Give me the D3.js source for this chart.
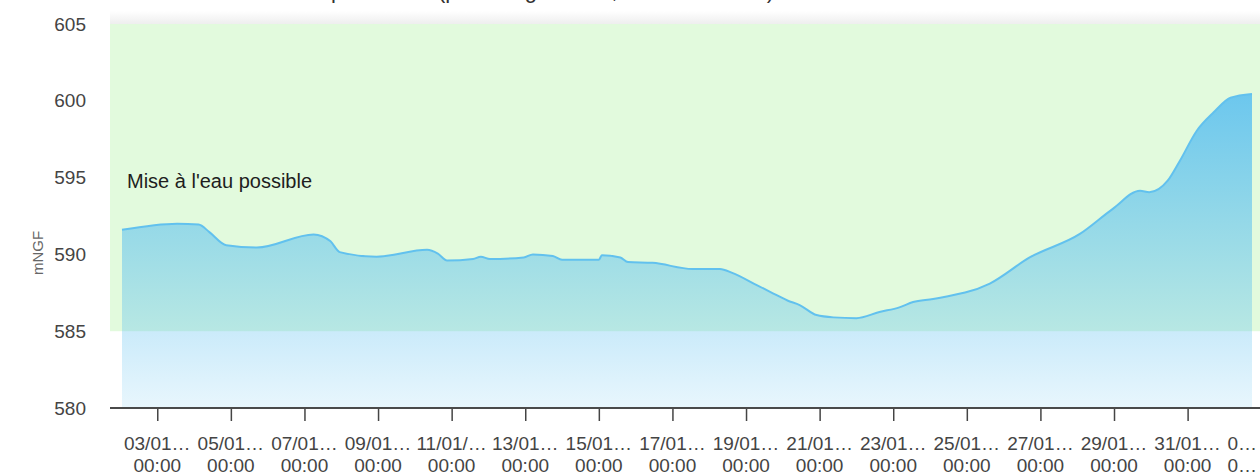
<!DOCTYPE html>
<html>
<head>
<meta charset="utf-8">
<script src="https://cdn.jsdelivr.net/npm/d3@7"></script>
<style>
  body { margin: 0; background: #fff; }
  text { font-family: "Liberation Sans", Arial, sans-serif; }
</style>
</head>
<body>
<div id="chart"></div>
<script>
// niveau du plan d'eau (mNGF)
var dates = ["2021-01-02 01:00","2021-01-03 13:00","2021-01-04 03:00","2021-01-04 10:00","2021-01-04 21:00",
  "2021-01-05 17:00","2021-01-07 06:00","2021-01-07 17:00","2021-01-07 23:00","2021-01-08 23:00",
  "2021-01-10 08:00","2021-01-10 15:00","2021-01-10 21:00","2021-01-11 14:00","2021-01-11 19:00",
  "2021-01-12 01:00","2021-01-12 23:00","2021-01-13 05:00","2021-01-13 18:00","2021-01-14 00:00",
  "2021-01-15 00:00","2021-01-15 02:00","2021-01-15 14:00","2021-01-15 19:00","2021-01-16 11:00",
  "2021-01-17 13:00","2021-01-18 07:00","2021-01-18 15:00","2021-01-19 07:00","2021-01-19 16:00",
  "2021-01-20 03:00","2021-01-20 11:00","2021-01-20 22:00","2021-01-21 09:00","2021-01-22 00:00",
  "2021-01-22 15:00","2021-01-23 04:00","2021-01-23 13:00","2021-01-24 02:00","2021-01-25 15:00",
  "2021-01-26 17:00","2021-01-28 02:00","2021-01-28 23:00","2021-01-29 17:00","2021-01-29 23:00",
  "2021-01-30 11:00","2021-01-30 19:00","2021-01-31 06:00","2021-01-31 17:00","2021-02-01 04:00",
  "2021-02-01 18:00"];
var levels = [591.6,592.0,591.95,591.45,590.6,
  590.45,591.3,590.85,590.15,589.85,
  590.3,590.05,589.6,589.7,589.85,
  589.7,589.8,590.0,589.9,589.65,
  589.65,589.95,589.8,589.5,589.45,
  589.05,589.05,588.8,588.0,587.55,
  587.0,586.7,586.05,585.9,585.85,
  586.25,586.55,586.9,587.1,588.1,
  589.8,591.35,592.95,594.15,594.05,
  594.8,596.1,598.05,599.25,600.2,
  600.45];

var yTicks = [580, 585, 590, 595, 600, 605];
var tickDates = ["2021-01-03","2021-01-05","2021-01-07","2021-01-09","2021-01-11","2021-01-13",
  "2021-01-15","2021-01-17","2021-01-19","2021-01-21","2021-01-23","2021-01-25","2021-01-27",
  "2021-01-29","2021-01-31","2021-02-02"];
var tickLine1 = ["03/01…","05/01…","07/01…","09/01…","11/01/…","13/01…","15/01…","17/01…",
  "19/01…","21/01…","23/01…","25/01…","27/01…","29/01…","31/01…","0…"];
var tickLine2 = ["00:00","00:00","00:00","00:00","00:00","00:00","00:00","00:00",
  "00:00","00:00","00:00","00:00","00:00","00:00","00:00","0…"];

var bandFrom = 585, bandTo = 605;
var bandLabel = "Mise à l'eau possible";
var yTitle = "mNGF";
var title = "Niveau du plan d'eau (période glissante, cote en mNGF)";

var width = 1260, height = 476;
var plotLeft = 110, plotRight = 1260;

var parse = d3.timeParse("%Y-%m-%d %H:%M");
var parseDay = d3.timeParse("%Y-%m-%d");
var data = dates.map((d, i) => ({date: parse(d), v: levels[i]}));

var x = d3.scaleTime()
    .domain(d3.extent(data, d => d.date))
    .range([122, 1252]);
var y = d3.scaleLinear()
    .domain([580, 605])
    .range([408, 24]);

var svg = d3.select("#chart")
  .append("svg")
    .attr("width", width)
    .attr("height", height);

var defs = svg.append("defs");
var grad = defs.append("linearGradient")
    .attr("id", "areaFill")
    .attr("gradientUnits", "userSpaceOnUse")
    .attr("x1", 0).attr("x2", 0)
    .attr("y1", y(d3.max(levels))).attr("y2", y(580));
grad.append("stop").attr("offset", 0).attr("stop-color", "#5cc0f0").attr("stop-opacity", 0.88);
grad.append("stop").attr("offset", 1).attr("stop-color", "#5cc0f0").attr("stop-opacity", 0.14);

var shadow = defs.append("linearGradient")
    .attr("id", "topShade")
    .attr("x1", 0).attr("x2", 0).attr("y1", 0).attr("y2", 1);
shadow.append("stop").attr("offset", 0).attr("stop-color", "#fff");
shadow.append("stop").attr("offset", 1).attr("stop-color", "#eeeeee");

// title (its top is off the picture, as in the original)
svg.append("text")
    .attr("x", 500)
    .attr("y", -2)
    .attr("text-anchor", "middle")
    .attr("font-size", 22)
    .attr("fill", "#333")
    .text(title);

svg.append("rect")
    .attr("x", plotLeft).attr("y", 11)
    .attr("width", plotRight - plotLeft).attr("height", y(bandTo) - 11)
    .attr("fill", "url(#topShade)");

// plot band
svg.append("rect")
    .attr("x", plotLeft)
    .attr("y", y(bandTo))
    .attr("width", plotRight - plotLeft)
    .attr("height", y(bandFrom) - y(bandTo))
    .attr("fill", "#e2fadd");

svg.append("text")
    .attr("x", 127)
    .attr("y", 188)
    .attr("font-size", 20)
    .attr("fill", "#1e1e1e")
    .text(bandLabel);

var area = d3.area()
    .curve(d3.curveMonotoneX)
    .x(d => x(d.date))
    .y0(y(580))
    .y1(d => y(d.v));
var line = d3.line()
    .curve(d3.curveMonotoneX)
    .x(d => x(d.date))
    .y(d => y(d.v));

svg.append("path")
    .datum(data)
    .attr("d", area)
    .attr("fill", "url(#areaFill)");
svg.append("path")
    .datum(data)
    .attr("d", line)
    .attr("fill", "none")
    .attr("stroke", "#62c1ee")
    .attr("stroke-width", 2);

// y axis
svg.append("g")
    .attr("transform", `translate(${plotLeft},0)`)
    .call(d3.axisLeft(y).tickValues(yTicks).tickSize(0).tickPadding(24))
    .call(g => g.select(".domain").remove())
    .call(g => g.selectAll("text")
        .attr("font-family", "Liberation Sans, Arial, sans-serif")
        .attr("font-size", 19)
        .attr("fill", "#444"));

svg.append("text")
    .attr("transform", "translate(43,253) rotate(-90)")
    .attr("text-anchor", "middle")
    .attr("font-size", 15)
    .attr("fill", "#666")
    .text(yTitle);

// x axis
var tickX = tickDates.map(d => x(parseDay(d)));
svg.append("g")
    .attr("transform", `translate(0,${y(580)})`)
    .call(d3.axisBottom(x).tickValues(tickDates.map(d => parseDay(d))).tickSize(13).tickFormat(""))
    .call(g => g.select(".domain").remove())
    .call(g => g.selectAll(".tick line").attr("stroke", "#444").attr("stroke-width", 1.5));

svg.append("line")
    .attr("x1", plotLeft).attr("x2", plotRight)
    .attr("y1", y(580)).attr("y2", y(580))
    .attr("stroke", "#4a4a4a")
    .attr("stroke-width", 2);

var labels = svg.append("g")
    .attr("font-size", 19)
    .attr("fill", "#444");
tickX.forEach((tx, i) => {
  var edge = tx > width - 30;
  var lx = edge ? width - 3 : tx;
  var t = labels.append("text")
      .attr("text-anchor", edge ? "end" : "middle");
  t.append("tspan").attr("x", lx).attr("y", 450).text(tickLine1[i]);
  t.append("tspan").attr("x", lx).attr("y", 472).text(tickLine2[i]);
});
</script>
</body>
</html>
